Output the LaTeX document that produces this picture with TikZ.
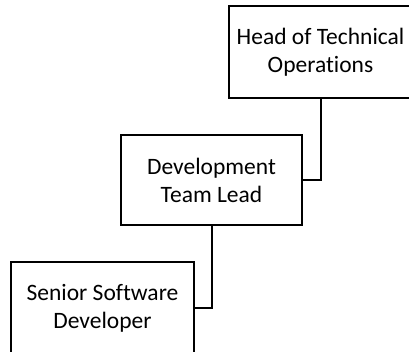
\documentclass[tikz,border=0pt]{standalone}
\usepackage{fontspec}
\setmainfont{Carlito}[Ligatures=NoCommon]
\begin{document}
\begin{tikzpicture}[x=1pt,y=-1pt,
  rolebox/.style={draw=black,line width=2pt,rectangle,minimum width=181pt,minimum height=90pt,align=center,inner sep=0pt,font=\fontsize{23.5}{28}\selectfont},
  openbox/.style={rolebox,draw=none},
  edge/.style={draw=black,line width=2pt},
  link/.style={draw=black,line width=2pt}]
\useasboundingbox[fill=white] (0,0) rectangle (409,351);
\clip (0,0) rectangle (409,351);
\node[openbox] (h) at (320.5,52) {Head of Technical\\Operations};
\draw[edge] (h.north east) -- (h.north west) -- (h.south west) -- (h.south east);
\node[rolebox] (d) at (211.5,180) {Development\\Team Lead};
\node[openbox] (s) at (102.5,308) {Senior Software\\Developer};
\draw[edge] (s.south west) -- (s.north west) -- (s.north east) -- (s.south east);
\draw[link] (h.south) |- (d.east);
\draw[link] (d.south) |- (s.east);
\end{tikzpicture}
\end{document}
